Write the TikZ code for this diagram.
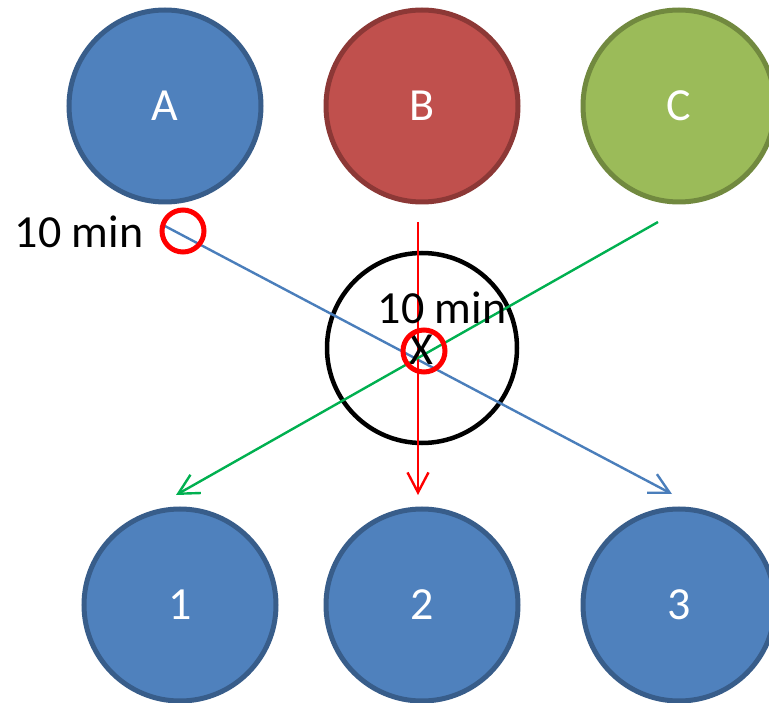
\documentclass[tikz,border=0pt]{standalone}
\usepackage{fontspec}
\setmainfont{Carlito}
\usetikzlibrary{arrows.meta}
\definecolor{BlueFill}{HTML}{4F81BD}
\definecolor{BlueEdge}{HTML}{385D8A}
\definecolor{RedFill}{HTML}{C0504D}
\definecolor{RedEdge}{HTML}{8C3836}
\definecolor{GreenFill}{HTML}{9BBB59}
\definecolor{GreenEdge}{HTML}{71893F}
\definecolor{BlueLine}{HTML}{4A7EBB}
\definecolor{GreenLine}{HTML}{00B050}
\begin{document}
\begin{tikzpicture}[x=1pt,y=-1pt,font=\fontsize{46}{50}\selectfont,
      disc/.style={circle,draw=BlueEdge,fill=BlueFill,line width=5pt,
                   minimum size=192pt,inner sep=0pt,text=white},
      route/.style={-{Straight Barb[length=20pt,width=21pt]},line width=2.4pt},
      ring/.style={circle,draw=red,line width=5pt,minimum size=42pt,inner sep=0pt},
      tag/.style={inner sep=0pt}]
    \useasboundingbox (0,0) rectangle (769,703);
    \node[disc] (a) at (165,106) {A};
    \node[disc,draw=RedEdge,fill=RedFill] (b) at (422,106) {B};
    \node[disc,draw=GreenEdge,fill=GreenFill] (c) at (679,106) {C};
    \node[disc,draw=black,fill=none,line width=4.5pt,minimum size=190pt,text=black] (x) at (422,348) {};
    \node[disc] (one) at (180,605) {1};
    \node[disc] (two) at (422,605) {2};
    \node[disc] (three) at (679,605) {3};
    \coordinate (afrom) at (163,225);
    \coordinate (bfrom) at (418,222);
    \coordinate (cfrom) at (658,222);
    \coordinate (ato) at (672,494);
    \coordinate (bto) at (418,495);
    \coordinate (cto) at (176,495);
    \draw[route,BlueLine] (afrom) -- (ato);
    \draw[route,red] (bfrom) -- (bto);
    \draw[route,GreenLine] (cfrom) -- (cto);
    \node[tag] (xlabel) at (421,350) {X};
    \node[ring] (ringA) at (183,231) {};
    \node[ring] (ringX) at (424,351) {};
    \node[tag] (timeA) at (79,232) {10 min};
    \node[tag] (timeX) at (442,308) {10 min};
  \end{tikzpicture}
\end{document}
